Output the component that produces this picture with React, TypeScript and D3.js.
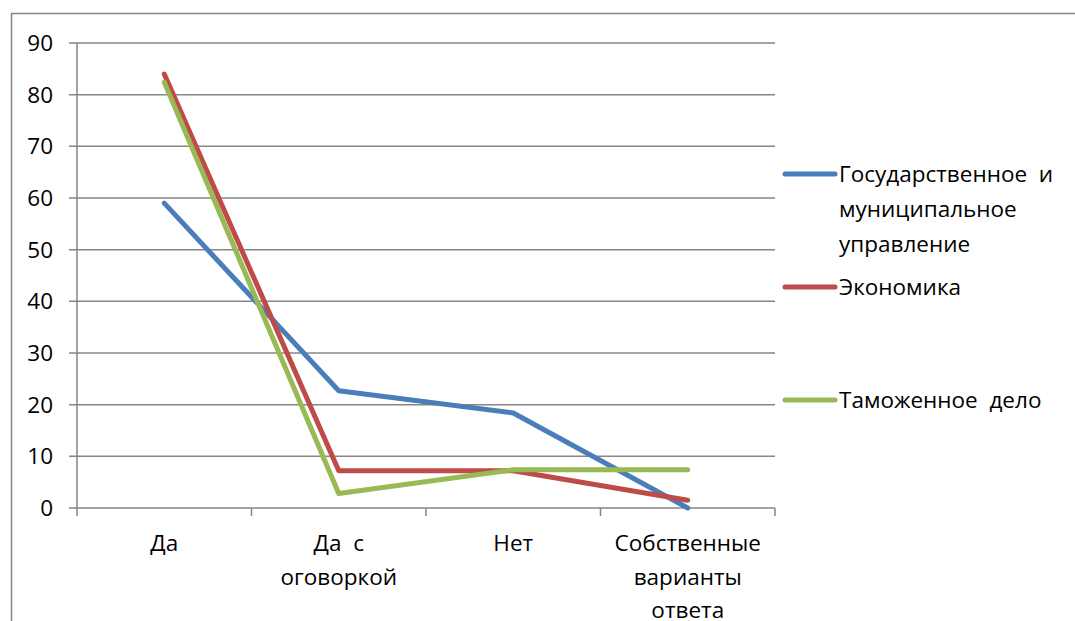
import React from 'react';
import * as d3 from 'd3';

const categories = ['Да', 'Да  с|оговоркой', 'Нет', 'Собственные|варианты|ответа'];
const seriesNames = ['Государственное  и|муниципальное|управление', 'Экономика', 'Таможенное  дело'];
const gmu = [59, 22.7, 18.4, 0];
const econ = [84, 7.2, 7.2, 1.5];
const customs = [82.4, 2.8, 7.4, 7.4];
const yTicks = [0, 10, 20, 30, 40, 50, 60, 70, 80, 90];
const colors = ['#4a7ebb', '#be4b48', '#98b954'];

const W = 1075;
const H = 621;
const FONT = '"Open Sans", sans-serif';
const GRID = '#868686';
const FS = 22.5;

export default function App() {
  const x = d3.scaleBand<string>().domain(categories).range([77, 775]);
  const y = d3.scaleLinear().domain([0, 90]).range([508, 43]);
  const line = d3
    .line<number>()
    .x((_, i) => (x(categories[i]) as number) + x.bandwidth() / 2)
    .y(d => y(d));
  const series = [gmu, econ, customs];
  const legendY = [174, 287, 400];

  return (
    <svg width={W} height={H} style={{position: 'absolute', left: 0, top: 0}} fontFamily={FONT}>
      <rect x={0} y={0} width={W} height={H} fill="#fff" />
      <path d={`M11.5,${H} V13.5 H${W}`} fill="none" stroke={GRID} strokeWidth={1.5} />
      {yTicks.map(t => (
        <g key={t}>
          <line x1={69} x2={775} y1={y(t)} y2={y(t)} stroke={GRID} strokeWidth={1.5} />
          <text x={53} y={y(t) + 8} textAnchor="end" fontSize={FS}>
            {t}
          </text>
        </g>
      ))}
      <line x1={77} x2={77} y1={43} y2={516} stroke={GRID} strokeWidth={1.5} />
      {categories.map((c, i) => (
        <line
          key={'t' + i}
          x1={(x(c) as number) + x.bandwidth()}
          x2={(x(c) as number) + x.bandwidth()}
          y1={508}
          y2={516}
          stroke={GRID}
          strokeWidth={1.5}
        />
      ))}
      {categories.map(c => (
        <text key={c} textAnchor="middle" fontSize={FS}>
          {c.split('|').map((s, j) => (
            <tspan key={j} x={(x(c) as number) + x.bandwidth() / 2} y={551 + j * 33.5} style={{whiteSpace: 'pre'}}>
              {s}
            </tspan>
          ))}
        </text>
      ))}
      {series.map((s, i) => (
        <path
          key={i}
          d={line(s) as string}
          fill="none"
          stroke={colors[i]}
          strokeWidth={5}
          strokeLinecap="round"
          strokeLinejoin="round"
        />
      ))}
      {seriesNames.map((n, i) => (
        <g key={n}>
          <line x1={785} x2={835} y1={legendY[i]} y2={legendY[i]} stroke={colors[i]} strokeWidth={5} strokeLinecap="round" />
          <text fontSize={FS}>
            {n.split('|').map((s, j) => (
              <tspan key={j} x={839} y={legendY[i] + 8 + j * 35} style={{whiteSpace: 'pre'}}>
                {s}
              </tspan>
            ))}
          </text>
        </g>
      ))}
    </svg>
  );
}
